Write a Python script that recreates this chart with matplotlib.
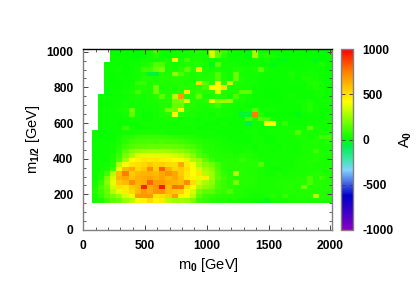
"""A0 map in the m0 - m1/2 plane, colour binned cells with a colour bar."""

import numpy as np
import matplotlib
matplotlib.use("Agg")
import matplotlib.pyplot as plt
from matplotlib.colors import LinearSegmentedColormap

N = np.nan

# rows listed from the top of the plot down to the bottom, 39 columns each
A0_ROWS = [
    [N, N, N, 20, 10, 10, 20, -10, 10, 30, 120, 30, 20, 20, 30, 30, 50, 60, 40, 350, 150, 100, 30, 30, 20, -20, 260, 30, 20, 20, 20, 10, 10, 20, 10, 10, 10, -10, 10],
    [N, N, N, 20, 10, 10, 10, -10, 10, 20, 60, 20, 20, 30, 30, 30, 40, 40, 30, 350, 150, 70, 20, 20, 20, -10, 260, 40, 60, 30, 20, 10, 10, 10, 10, 10, 10, 0, 10],
    [N, N, N, 20, 20, 10, 10, 10, 30, 30, 30, 30, 40, 400, 40, 100, 40, 40, 30, 30, 30, 30, 30, 20, 20, 10, 30, 20, 30, 10, -10, -20, 10, 10, 10, 10, -30, 0, 10],
    [N, N, 20, 20, 20, 10, 20, 30, 40, 60, 140, 120, 40, 30, 40, 50, 50, 60, 40, -30, 150, 30, 30, 30, 20, 20, 30, 20, 20, -20, 10, 10, 10, 10, 20, 20, 20, 40, 10],
    [N, N, 20, 20, 30, 10, 20, 30, 100, 100, 170, 200, 40, 40, 60, 150, 70, 480, 40, 30, 40, 30, 30, 50, 40, 30, 40, 150, 30, 20, 20, 20, 20, 20, 20, 30, 20, 20, 10],
    [N, N, 20, 10, 20, 10, 20, 30, 40, -60, -60, 60, 40, 230, 120, 60, 40, 60, 40, 50, 130, 40, 30, 170, 30, 30, 30, 30, 20, 20, 20, 20, 40, 20, 30, 30, 30, 20, 10],
    [N, N, 20, 10, 20, 20, 20, 30, 50, 50, 40, 50, 60, 60, 60, 50, 40, 50, 50, 60, 130, 40, 30, 170, 40, 30, 30, 20, 20, 20, 20, 20, 30, 20, 40, 40, 30, 20, 20],
    [N, N, 20, 10, 10, 20, 20, 80, 80, 40, 50, 50, 40, 50, 60, 40, 50, 520, 150, 60, 450, 60, 330, 60, 40, 30, 30, 20, 20, 20, 20, 20, 20, 20, 20, 40, 50, 30, 20],
    [N, N, 20, 20, 10, 20, 30, 40, 50, 40, 180, 40, 50, 40, 60, 60, 60, 60, 100, 420, 430, 500, 40, 40, 30, 30, 20, 20, 20, 10, 20, 20, 20, 20, 20, 30, 40, 30, 20],
    [N, N, 20, 20, 20, 30, 40, 110, 40, 40, 180, 50, 50, 60, 60, 480, 60, 80, 60, 60, 380, 50, 40, 40, 150, 150, 30, 20, 10, 10, 10, 20, 20, 20, 20, 20, 30, 30, 20],
    [N, 20, 20, 20, 20, 20, 30, 40, 30, 40, 50, 150, 50, 300, 680, 60, 60, 170, 40, 40, 60, 50, 30, 120, 40, 30, 20, 20, 10, 10, 10, 20, 30, 20, 20, 20, 30, 30, 20],
    [N, 10, 10, 20, 20, 30, 30, 30, 30, 40, 40, 50, 60, 180, 200, 380, 50, 50, 60, 400, 220, 250, 250, 40, 40, 30, 20, 20, 20, 10, 10, 20, 20, 30, 30, 40, 20, 30, 30],
    [N, 10, 10, 20, 20, 30, 30, 30, 30, 30, 30, 50, 50, 170, 170, 50, 50, 40, 40, 60, 100, 40, 30, 30, 30, 20, 20, 20, 20, 20, 20, 20, 20, 20, 30, 60, 30, 20, 30],
    [N, 20, 20, 20, 30, 40, 180, 30, 30, 30, 30, 50, 200, 180, 450, 60, 40, 40, 30, 40, 40, 30, 30, 20, 20, 30, 130, 30, 30, 30, 20, 20, 20, 20, 30, 50, 30, 20, 20],
    [N, 20, 20, 20, 20, 30, 150, 30, 20, 20, 30, 40, 60, 400, 60, 40, 40, 30, 30, 20, 40, 30, 30, 20, -50, -50, 750, 50, 20, 10, 10, 10, 10, -20, 20, 30, 20, 20, 30],
    [N, 20, 20, 20, 20, 20, 30, 30, 20, 20, 30, 30, 40, 40, 30, 30, 30, 20, 30, 30, 20, 20, 20, 20, 20, 130, 30, 130, 130, 30, 20, 20, 20, 20, 20, 20, 20, 20, 30],
    [N, 20, 20, 20, 10, 20, 20, 20, 30, 30, 30, 30, 30, 20, 30, 30, 30, 30, 20, 20, 20, 30, 20, 20, 20, -70, 30, 30, 400, 420, 30, 80, 20, 20, 20, 30, 30, 30, 40],
    [N, 20, 20, 20, 10, 100, 30, 20, 20, 30, 30, 30, 30, 30, 30, 20, 30, 20, 20, 20, 30, 20, 20, 20, 20, 20, 30, 20, 20, 30, 30, 30, 30, 30, 30, 150, 40, 30, 30],
    [20, 10, 10, 20, 20, 30, 30, 40, 40, 40, 40, 40, 30, 30, 30, 30, 30, 30, 30, 30, 20, 20, 20, 20, 20, 30, 30, 20, 30, 30, 30, 30, 40, 130, 40, 40, 30, 40, 40],
    [10, 10, 10, 10, 30, 60, 70, 80, 80, 90, 90, 80, 80, 70, 70, 60, 50, 40, 30, 30, 30, 30, 20, 20, 20, 20, 30, 30, 20, 20, 30, 30, 30, 40, 40, 30, 40, 100, 100],
    [20, 20, 20, 20, 40, 70, 100, 110, 110, 120, 110, 120, 110, 110, 100, 90, 70, 60, 50, 40, 40, 30, 30, 20, 20, 20, 30, 30, 20, 20, 30, 30, 30, 30, 40, 40, 50, 40, 60],
    [20, 20, 20, 30, 50, 100, 130, 150, 150, 170, 170, 170, 170, 160, 150, 130, 110, 80, 60, 50, 40, 40, 30, 30, 30, 30, 20, 30, 30, 30, 20, 30, 30, 30, 40, 40, 40, 40, 40],
    [20, 20, 20, 30, 70, 150, 220, 240, 260, 270, 270, 260, 250, 230, 220, 200, 160, 110, 70, 50, 50, 40, 40, 30, 30, 40, 30, 30, 30, 20, 30, 30, 30, 30, 40, 40, 100, 40, 40],
    [20, 20, 20, 40, 90, 200, 280, 360, 370, 380, 370, 380, 370, 350, 330, 280, 220, 140, 100, 60, 60, 50, 50, 40, 60, 50, 40, 30, 30, 30, 30, 30, 30, 30, 40, 40, 50, 40, 40],
    [20, 20, 20, 50, 120, 260, 420, 450, 480, 470, 480, 460, 440, 420, 400, 360, 280, 250, 150, 90, 60, 60, 60, 50, 90, 60, 50, 40, 30, 30, 30, 30, 30, 40, 40, 50, 50, 40, 40],
    [20, 20, 30, 60, 300, 430, 480, 500, 520, 560, 530, 540, 520, 500, 650, 470, 400, 280, 220, 180, 110, 70, 60, 60, 60, 60, 60, 130, 30, 30, 30, 30, 30, 40, 40, 50, 40, 40, 40],
    [20, 30, 40, 100, 400, 600, 650, 520, 560, 720, 540, 820, 620, 530, 560, 500, 420, 350, 270, 220, 130, 70, 60, 60, 60, 50, 50, 40, 30, 20, 20, 30, 30, 40, 40, 40, 40, 40, 40],
    [20, 40, 100, 300, 600, 750, 560, 600, 620, 620, 600, 650, 700, 650, 550, 480, 420, 480, 300, 250, 140, 80, 60, 300, 60, 60, 50, 40, 30, 30, 40, 30, 40, 40, 40, 50, 60, 50, 40],
    [20, 50, 200, 350, 620, 650, 580, 620, 640, 660, 620, 660, 600, 650, 580, 470, 440, 380, 450, 250, 150, 100, 70, 60, 60, 60, 50, 40, 40, 40, 40, 40, 40, 50, 50, 120, 50, 100, 50],
    [30, 80, 220, 380, 560, 600, 720, 620, 640, 810, 680, 680, 640, 620, 600, 720, 500, 350, 270, 230, 130, 90, 70, 200, 60, 60, 50, 40, 40, 40, 50, 50, 50, 50, 60, 120, 60, 50, 50],
    [40, 130, 180, 350, 500, 480, 560, 600, 930, 640, 700, 950, 600, 780, 760, 500, 400, 280, 230, 200, 120, 90, 70, 60, 50, 50, 50, 40, 40, 40, 50, 50, 60, 50, 180, 60, 60, 60, 50],
    [50, 100, 170, 300, 380, 470, 520, 600, 680, 640, 700, 700, 600, 570, 550, 440, 350, 200, 150, 150, 100, 80, 130, 60, 50, 40, 40, 40, 40, 40, 40, 50, 50, 50, 50, 60, 50, 50, 50],
    [40, 80, 150, 200, 250, 350, 430, 680, 690, 690, 480, 500, 550, 680, 450, 400, 300, 150, 100, 80, 70, 60, 60, 50, 50, 40, 30, 30, 40, 60, 40, 80, 40, 50, 50, 50, 300, 50, 50],
    [30, 40, 100, 150, 180, 250, 300, 430, 450, 520, 440, 470, 300, 250, 260, 250, 200, 100, 80, 60, 50, 50, 40, 40, 30, 30, 20, 20, -20, 30, 30, 30, 40, 40, 40, 40, 40, 40, 40],
]

CBAR_TICKS = [-1000, -500, 0, 500, 1000]
X_TICKS = [0, 500, 1000, 1500, 2000]
Y_TICKS = [0, 200, 400, 600, 800, 1000]

CMAP_STOPS = [
    (-1000, "#8a00c0"),
    (-800, "#3c00c8"),
    (-620, "#0000c8"),
    (-500, "#3c5adc"),
    (-340, "#82d2ff"),
    (-220, "#3ce6aa"),
    (-80, "#00f050"),
    (0, "#00ff00"),
    (420, "#ffff00"),
    (500, "#ffe100"),
    (750, "#ff8200"),
    (1000, "#ff0000"),
]


def main():
    plt.rcParams["font.family"] = ["Liberation Sans", "DejaVu Sans"]
    plt.rcParams["font.weight"] = "bold"
    plt.rcParams["mathtext.fontset"] = "custom"
    plt.rcParams["mathtext.bf"] = "Liberation Sans:bold"
    plt.rcParams["mathtext.rm"] = "Liberation Sans:bold"
    plt.rcParams["mathtext.default"] = "bf"
    plt.rcParams["axes.unicode_minus"] = False

    values = np.array(A0_ROWS, dtype=float)[::-1]
    x_edges = 68 + 49.8 * np.arange(values.shape[1] + 1)
    y_edges = 152 + 25.4 * np.arange(values.shape[0] + 1)

    cmap = LinearSegmentedColormap.from_list(
        "a0", [((v + 1000) / 2000, c) for v, c in CMAP_STOPS], N=256
    )

    fig = plt.figure(figsize=(4.17, 2.92), dpi=100)
    ax = fig.add_axes([83.3 / 417, 62 / 292, 248.7 / 417, 181 / 292])
    mesh = ax.pcolormesh(x_edges, y_edges, values, cmap=cmap, vmin=-1000, vmax=1000)

    ax.set_xlim(0, 2014)
    ax.set_ylim(0, 1015)
    ax.set_xticks(X_TICKS)
    ax.set_yticks(Y_TICKS)
    ax.set_xticks(np.arange(0, 2001, 100), minor=True)
    ax.set_yticks(np.arange(0, 1001, 50), minor=True)
    ax.tick_params(which="major", direction="in", length=3.6, width=0.7, color="#444444",
                   top=True, right=True, labelsize=8.7, pad=7)
    ax.tick_params(which="minor", direction="in", length=2, width=0.6, color="#444444",
                   top=True, right=True)
    for name, spine in ax.spines.items():
        spine.set_color("#000000" if name == "top" else "#808080")
        spine.set_linewidth(1.0)
    ax.set_xlabel("m$_0$ [GeV]", fontsize=10.5, labelpad=3, x=0.505)
    ax.set_ylabel("m$_{1/2}$ [GeV]", fontsize=10.5, labelpad=3)

    cax = fig.add_axes([340.5 / 417, 62 / 292, 12.5 / 417, 181 / 292])
    cbar = fig.colorbar(mesh, cax=cax, ticks=CBAR_TICKS)
    cbar.ax.tick_params(direction="in", length=3, width=0.7, color="#444444",
                        left=True, right=True, labelsize=8.7, pad=7)
    cbar.outline.set_edgecolor("#808080")
    cbar.outline.set_linewidth(1.0)
    cbar.set_label("A$_0$", fontsize=10.5, labelpad=3)

    fig.savefig("out.png", dpi=100)


if __name__ == "__main__":
    main()
